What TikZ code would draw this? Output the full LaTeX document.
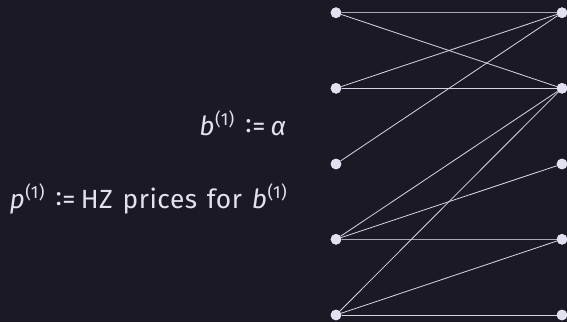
\documentclass[tikz,border=0pt]{standalone}
\usepackage{fontspec}
\setmainfont{Fira Sans}[LetterSpace=2,WordSpace=1.3]
\definecolor{bg}{HTML}{1B1A24}
\definecolor{fg}{HTML}{E2E1F2}
\definecolor{ln}{HTML}{D6D5E6}
\definecolor{hl}{HTML}{A9A8B8}
\newcommand{\sups}[1]{\raisebox{0.36em}{\fontsize{17.5}{18}\selectfont\upshape #1}}
\newcommand{\defeq}{\hspace{0.42em}\raisebox{0.1em}{:}\kern0.02em=\hspace{0.2em}}
\begin{document}
\begin{tikzpicture}[x=1pt,y=-1pt,
  dot/.style={circle,fill=fg,inner sep=0pt,minimum size=10.6pt},
  edge/.style={draw=ln,line width=0.8pt},
  hedge/.style={draw=hl,line width=1.5pt},
  lbl/.style={text=fg,font=\fontsize{26.3}{31}\selectfont,inner sep=0pt}]
\fill[bg] (0,0) rectangle (567,322);
\useasboundingbox (0,0) rectangle (567,322);
\foreach \i/\y in {1/12.7,2/88.3,3/164,4/239.3,5/315}{
  \node[dot] (L\i) at (336,\y) {};
  \node[dot] (R\i) at (562,\y) {};
}
\path[hedge] (L1) -- (R1);
\path[hedge] (L4) -- (R4);
\path[edge] (L1) -- (R2);
\path[edge] (L2) -- (R1);
\path[edge] (L2) -- (R2);
\path[edge] (L3) -- (R1);
\path[edge] (L4) -- (R2);
\path[edge] (L4) -- (R3);
\path[edge] (L5) -- (R2);
\path[edge] (L5) -- (R4);
\path[edge] (L5) -- (R5);
\foreach \i in {1,...,5}{
  \node[dot] at (L\i) {};
  \node[dot] at (R\i) {};
}
\node[lbl,anchor=base east] (t1) at (287,135) {\textit{b}\sups{(1)}\defeq\textit{α}};
\node[lbl,anchor=base east] (t2) at (287,208) {\textit{p}\sups{(1)}\defeq HZ prices for \textit{b}\sups{(1)}};
\end{tikzpicture}
\end{document}
